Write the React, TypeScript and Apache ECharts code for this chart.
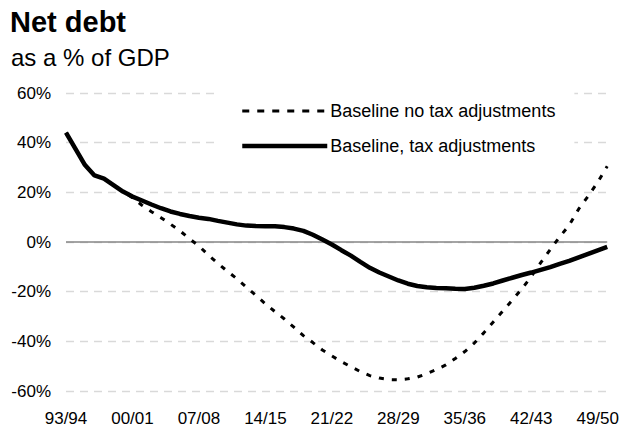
import React, { useEffect, useRef } from "react";
import * as echarts from "echarts";

const categories = [
  "93/94", "94/95", "95/96", "96/97", "97/98", "98/99", "99/00", "00/01", "01/02", "02/03",
  "03/04", "04/05", "05/06", "06/07", "07/08", "08/09", "09/10", "10/11", "11/12", "12/13",
  "13/14", "14/15", "15/16", "16/17", "17/18", "18/19", "19/20", "20/21", "21/22", "22/23",
  "23/24", "24/25", "25/26", "26/27", "27/28", "28/29", "29/30", "30/31", "31/32", "32/33",
  "33/34", "34/35", "35/36", "36/37", "37/38", "38/39", "39/40", "40/41", "41/42", "42/43",
  "43/44", "44/45", "45/46", "46/47", "47/48", "48/49", "49/50", "50/51",
];

const noTaxAdj = [
  44, 37.5, 31, 26.8, 25.5, 22.9, 20.3, 17.8, 14.8, 12.2,
  9.8, 7.2, 4.5, 1.3, -1.6, -5.3, -8.6, -11.8, -14.8, -18.2,
  -21.5, -24.9, -28.0, -31.0, -34.3, -37.7, -40.5, -43.5, -45.9, -48.2,
  -50.2, -52.2, -53.8, -54.8, -55.4, -55.5, -55.1, -54.4, -53.0, -51.4,
  -49.5, -46.9, -44.1, -40.7, -36.6, -32.2, -27.8, -23.4, -18.9, -13.9,
  -8.3, -3.0, 2.1, 6.8, 13.3, 18.5, 24.1, 30.5,
];

const taxAdj = [
  44, 37.5, 31, 26.8, 25.5, 22.9, 20.3, 18.3, 16.7, 15.1,
  13.6, 12.3, 11.3, 10.5, 9.8, 9.3, 8.5, 7.8, 7.1, 6.6,
  6.4, 6.3, 6.3, 6.0, 5.4, 4.5, 2.9, 1.0, -1.0, -3.3,
  -5.5, -8.0, -10.4, -12.3, -13.9, -15.5, -16.8, -17.7, -18.2, -18.5,
  -18.6, -18.8, -18.9, -18.4, -17.6, -16.7, -15.5, -14.4, -13.3, -12.3,
  -11.2, -10.1, -8.8, -7.6, -6.2, -4.8, -3.4, -2.0,
];

const seriesNames = ["Baseline no tax adjustments", "Baseline, tax adjustments"];

const FONT = "'Liberation Sans', Arial, sans-serif";

export default function App() {
  const ref = useRef<HTMLDivElement>(null);
  useEffect(() => {
    if (!ref.current) return;
    const chart = echarts.init(ref.current, null, { renderer: "svg" });
    chart.setOption({
      animation: false,
      backgroundColor: "#ffffff",
      textStyle: { fontFamily: FONT, color: "#000" },
      title: [
        {
          text: "Net debt",
          left: 10,
          top: 7,
          padding: 0,
          textStyle: { fontFamily: FONT, fontSize: 29, fontWeight: "bold", color: "#000" },
        },
        {
          text: "as a % of GDP",
          left: 11,
          top: 45,
          padding: 0,
          textStyle: { fontFamily: FONT, fontSize: 24, fontWeight: "normal", color: "#000" },
        },
      ],
      legend: {
        orient: "vertical",
        left: 220,
        top: 88,
        padding: [14, 19, 14, 20],
        backgroundColor: "#ffffff",
        itemWidth: 85,
        itemHeight: 14,
        itemGap: 17,
        itemStyle: { opacity: 0, borderWidth: 0 },
        textStyle: { fontFamily: FONT, fontSize: 18, color: "#000", padding: [0, 0, 0, -2] },
        data: [
          { name: seriesNames[0], itemStyle: { opacity: 0 }, lineStyle: { width: 3, type: [7, 8], color: "#000" } },
          { name: seriesNames[1], itemStyle: { opacity: 0 }, lineStyle: { width: 4.5, type: "solid", color: "#000" } },
        ],
      },
      grid: { left: 66, right: 14, top: 93, bottom: 36, containLabel: false },
      xAxis: {
        type: "category",
        data: categories,
        boundaryGap: false,
        axisLine: { show: false },
        axisTick: { show: false },
        axisLabel: {
          interval: 6,
          margin: 19,
          fontFamily: FONT,
          fontSize: 17,
          color: "#000",
        },
        splitLine: { show: false },
      },
      yAxis: {
        type: "value",
        min: -60,
        max: 60,
        interval: 20,
        axisLine: { show: false },
        axisTick: { show: false },
        axisLabel: {
          formatter: "{value}%",
          margin: 15,
          fontFamily: FONT,
          fontSize: 17,
          color: "#000",
        },
        splitLine: {
          show: true,
          lineStyle: { color: "#d9d9d9", width: 1.3, type: [8, 6] },
        },
      },
      series: [
        {
          name: seriesNames[0],
          type: "line",
          data: noTaxAdj,
          symbol: "none",
          smooth: false,
          lineStyle: { color: "#000", width: 3, type: [5, 8] },
          itemStyle: { color: "#000" },
          markLine: {
            silent: true,
            symbol: "none",
            label: { show: false },
            lineStyle: { color: "#868686", type: "solid", width: 1.5 },
            data: [{ yAxis: 0 }],
            z: 1,
          },
          z: 2,
        },
        {
          name: seriesNames[1],
          type: "line",
          data: taxAdj,
          symbol: "none",
          smooth: false,
          lineStyle: { color: "#000", width: 4.5, type: "solid" },
          itemStyle: { color: "#000" },
          z: 3,
        },
      ],
    });
    return () => chart.dispose();
  }, []);
  return <div ref={ref} style={{ width: 622, height: 427, position: "absolute", left: 0, top: 0 }} />;
}
